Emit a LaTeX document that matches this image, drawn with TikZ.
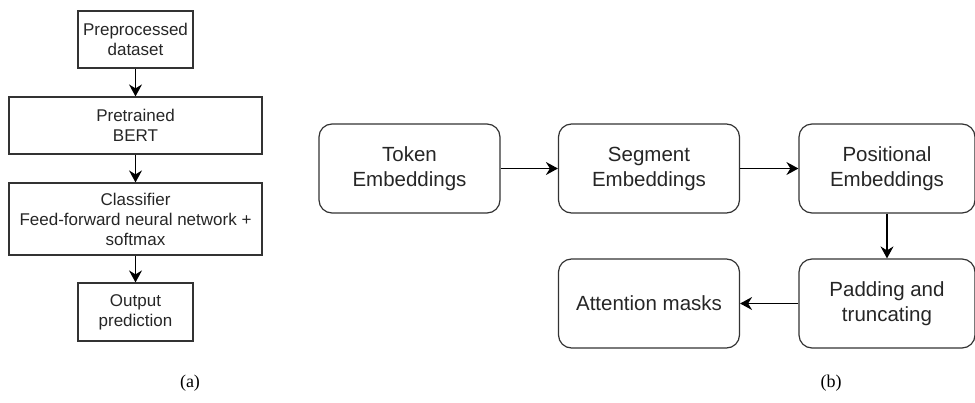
\documentclass[tikz,border=0pt]{standalone}
\usepackage{fontspec}
\setmainfont{Liberation Serif}
\setsansfont{Liberation Sans}
\usetikzlibrary{arrows.meta}

\tikzset{
  flowtip/.tip={Stealth[length=12pt,width=13pt,inset=4pt]}
}

\begin{document}
\begin{tikzpicture}[x=1pt,y=-1pt,line width=1.2pt]

      \useasboundingbox (0,0) rectangle (975,402);

      % pipeline (a): plain boxes, top to bottom
      \begin{scope}[every node/.style={draw=black!80,text=black!85,inner sep=0pt,
          align=center,font=\sffamily\fontsize{17}{20}\selectfont}]
        \node[minimum width=115pt,minimum height=57pt] (pre)  at (135.5,39.5)  {Preprocessed\\dataset};
        \node[minimum width=253pt,minimum height=57pt] (bert) at (135.5,125.5) {Pretrained\\BERT};
        \node[minimum width=253pt,minimum height=72pt] (clf)  at (135.5,219)   {Classifier\\Feed-forward neural network +\\softmax};
        \node[minimum width=115pt,minimum height=58pt] (out)  at (135.5,312)   {Output\\prediction};
      \end{scope}

      % pipeline (b): rounded boxes
      \begin{scope}[every node/.style={draw=black!80,text=black!85,rounded corners=13pt,
          inner sep=0pt,align=center,minimum width=181pt,minimum height=89pt,
          font=\sffamily\fontsize{20.5}{25}\selectfont}]
        \node (tok) at (409.5,168.5) {Token\\Embeddings};
        \node (seg) at (649,168.5)   {Segment\\Embeddings};
        \node[minimum width=176pt] (pos) at (887,168.5) {Positional\\Embeddings};
        \node[minimum width=176pt] (pad) at (887,303.5) {Padding and\\truncating};
        \node (att) at (649,303.5)   {Attention masks};
      \end{scope}

      \begin{scope}[every edge/.style={draw,-flowtip}]
        \path (pre)  edge (bert);
        \path (bert) edge (clf);
        \path (clf)  edge (out);
        \path (tok)  edge (seg);
        \path (seg)  edge (pos);
        \path (pos)  edge (pad);
        \path (pad)  edge (att);
      \end{scope}

      \begin{scope}[every node/.style={font=\fontsize{18}{20}\selectfont}]
        \node (capa) at (190,383) {(a)};
        \node (capb) at (831,383) {(b)};
      \end{scope}

    \end{tikzpicture}
\end{document}
